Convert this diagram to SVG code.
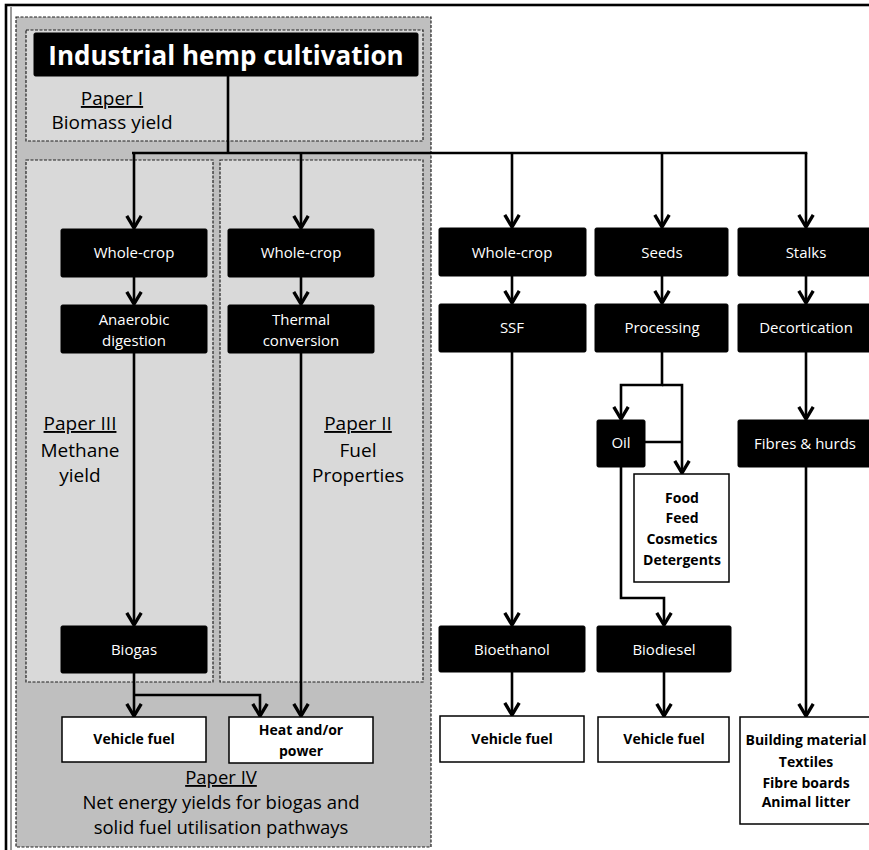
<svg xmlns="http://www.w3.org/2000/svg" width="869" height="850" viewBox="0 0 869 850">
<style>
.region{stroke:#222;stroke-width:1.2;stroke-dasharray:3 1.5}
.dark{fill:#bfbfbf}
.light{fill:#d9d9d9}
.blk{fill:#000;stroke:#000;stroke-width:1}
.wht{fill:#fff;stroke:#000;stroke-width:1.5}
text{font-family:"Open Sans",Lato,"Liberation Sans",sans-serif;text-anchor:middle}
.wt{fill:#fff;font-size:15px}
.bt{fill:#000;font-size:14px;font-weight:bold}
.title{fill:#fff;font-size:26px;font-weight:bold}
.paper{fill:#000;font-size:19px}
.p4{font-size:18.5px}
.conn path{fill:none;stroke:#000;stroke-width:2.6}
</style>
<defs>
<marker id="arr" markerUnits="userSpaceOnUse" markerWidth="20" markerHeight="20" refX="0" refY="0" viewBox="-14 -9 16 18" orient="auto" overflow="visible">
<path d="M-11,-6.5 L0,0 L-11,6.5" fill="none" stroke="#000" stroke-width="3" stroke-linejoin="miter"/>
</marker>
</defs>
<rect width="869" height="850" fill="#fff"/>
<rect x="6" y="5" width="890" height="870" fill="none" stroke="#000" stroke-width="2.6"/>
<line x1="11" y1="7" x2="11" y2="850" stroke="#000" stroke-width="0.8"/>
<rect class="region dark" x="16" y="17" width="415" height="830"/>
<rect class="region light" x="26" y="30" width="397" height="111"/>
<rect class="region light" x="26" y="160" width="187" height="522"/>
<rect class="region light" x="220" y="160" width="203" height="522"/>
<text class="paper" x="112" y="105" text-decoration="underline">Paper I</text>
<text class="paper" x="112" y="129">Biomass yield</text>
<text class="paper" x="80" y="430" text-decoration="underline">Paper III</text>
<text class="paper" x="80" y="457">Methane</text>
<text class="paper" x="80" y="482">yield</text>
<text class="paper" x="358" y="430" text-decoration="underline">Paper II</text>
<text class="paper" x="358" y="457">Fuel</text>
<text class="paper" x="358" y="482">Properties</text>
<text class="paper p4" x="221" y="784" text-decoration="underline">Paper IV</text>
<text class="paper p4" x="221" y="809">Net energy yields for biogas  and</text>
<text class="paper p4" x="221" y="834">solid fuel utilisation pathways</text>
<g class="conn">
<path d="M228,76 V153"/>
<path d="M132,153 H807.3"/>
<path d="M134,153 V228" marker-end="url(#arr)"/>
<path d="M301,153 V228" marker-end="url(#arr)"/>
<path d="M512,153 V227" marker-end="url(#arr)"/>
<path d="M662,153 V227" marker-end="url(#arr)"/>
<path d="M806,153 V227" marker-end="url(#arr)"/>
<path d="M134,277 V304" marker-end="url(#arr)"/>
<path d="M301,277 V304" marker-end="url(#arr)"/>
<path d="M134,353 V625" marker-end="url(#arr)"/>
<path d="M301,353 V716" marker-end="url(#arr)"/>
<path d="M134,673 V716" marker-end="url(#arr)"/>
<path d="M134,695 H260 V716" marker-end="url(#arr)"/>
<path d="M512,276 V303" marker-end="url(#arr)"/>
<path d="M662,276 V303" marker-end="url(#arr)"/>
<path d="M806,276 V303" marker-end="url(#arr)"/>
<path d="M512,352 V625" marker-end="url(#arr)"/>
<path d="M662,352 V385 H621 V419" marker-end="url(#arr)"/>
<path d="M662,385 H682 V473" marker-end="url(#arr)"/>
<path d="M645,442 H682"/>
<path d="M621,467 V598 H664 V625" marker-end="url(#arr)"/>
<path d="M806,352 V419" marker-end="url(#arr)"/>
<path d="M806,467 V716" marker-end="url(#arr)"/>
<path d="M512,672 V715" marker-end="url(#arr)"/>
<path d="M664,672 V716" marker-end="url(#arr)"/>
</g>
<g id="title"><rect class="blk" x="34" y="33" width="384" height="43" rx="1.5"/><text class="title" x="226" y="65">Industrial hemp cultivation</text></g>
<g id="wholecrop1"><rect class="blk" x="61" y="229" width="146" height="48" rx="1.5"/><text class="wt" x="134" y="258">Whole-crop</text></g>
<g id="anaerobic"><rect class="blk" x="61" y="305" width="146" height="48" rx="1.5"/><text class="wt" x="134" y="325">Anaerobic</text><text class="wt" x="134" y="346">digestion</text></g>
<g id="wholecrop2"><rect class="blk" x="228" y="229" width="146" height="48" rx="1.5"/><text class="wt" x="301" y="258">Whole-crop</text></g>
<g id="thermal"><rect class="blk" x="228" y="305" width="146" height="48" rx="1.5"/><text class="wt" x="301" y="325">Thermal</text><text class="wt" x="301" y="346">conversion</text></g>
<g id="biogas"><rect class="blk" x="61" y="626" width="146" height="47" rx="1.5"/><text class="wt" x="134" y="655">Biogas</text></g>
<g id="vehiclefuel1"><rect class="wht" x="62" y="717" width="144" height="45"/><text class="bt" x="134" y="744">Vehicle fuel</text></g>
<g id="heatpower"><rect class="wht" x="229" y="717" width="144" height="46"/><text class="bt" x="301" y="735">Heat and/or</text><text class="bt" x="301" y="756">power</text></g>
<g id="wholecrop3"><rect class="blk" x="439" y="228" width="147" height="48" rx="1.5"/><text class="wt" x="512" y="258">Whole-crop</text></g>
<g id="seeds"><rect class="blk" x="595" y="228" width="133" height="48" rx="1.5"/><text class="wt" x="662" y="258">Seeds</text></g>
<g id="stalks"><rect class="blk" x="738" y="228" width="140" height="48" rx="1.5"/><text class="wt" x="806" y="258">Stalks</text></g>
<g id="ssf"><rect class="blk" x="439" y="304" width="147" height="48" rx="1.5"/><text class="wt" x="512" y="333">SSF</text></g>
<g id="processing"><rect class="blk" x="595" y="304" width="133" height="48" rx="1.5"/><text class="wt" x="662" y="333">Processing</text></g>
<g id="decortication"><rect class="blk" x="738" y="304" width="140" height="48" rx="1.5"/><text class="wt" x="806" y="333">Decortication</text></g>
<g id="oil"><rect class="blk" x="597" y="420" width="48" height="47" rx="1.5"/><text class="wt" x="621" y="448">Oil</text></g>
<g id="fibres"><rect class="blk" x="738" y="420" width="140" height="47" rx="1.5"/><text class="wt" x="805" y="449">Fibres &amp; hurds</text></g>
<g id="foodfeed"><rect class="wht" x="634" y="474" width="95" height="108"/><text class="bt" x="682" y="503">Food</text><text class="bt" x="682" y="523">Feed</text><text class="bt" x="682" y="544">Cosmetics</text><text class="bt" x="682" y="565">Detergents</text></g>
<g id="bioethanol"><rect class="blk" x="439" y="626" width="146" height="46" rx="1.5"/><text class="wt" x="512" y="655">Bioethanol</text></g>
<g id="biodiesel"><rect class="blk" x="597" y="626" width="134" height="46" rx="1.5"/><text class="wt" x="664" y="655">Biodiesel</text></g>
<g id="vehiclefuel2"><rect class="wht" x="440" y="716" width="144" height="46"/><text class="bt" x="512" y="744">Vehicle fuel</text></g>
<g id="vehiclefuel3"><rect class="wht" x="598" y="717" width="131" height="45"/><text class="bt" x="664" y="744">Vehicle fuel</text></g>
<g id="building"><rect class="wht" x="740" y="717" width="140" height="107"/><text class="bt" x="806" y="745">Building material</text><text class="bt" x="806" y="767">Textiles</text><text class="bt" x="806" y="788">Fibre boards</text><text class="bt" x="806" y="807">Animal litter</text></g>
</svg>
